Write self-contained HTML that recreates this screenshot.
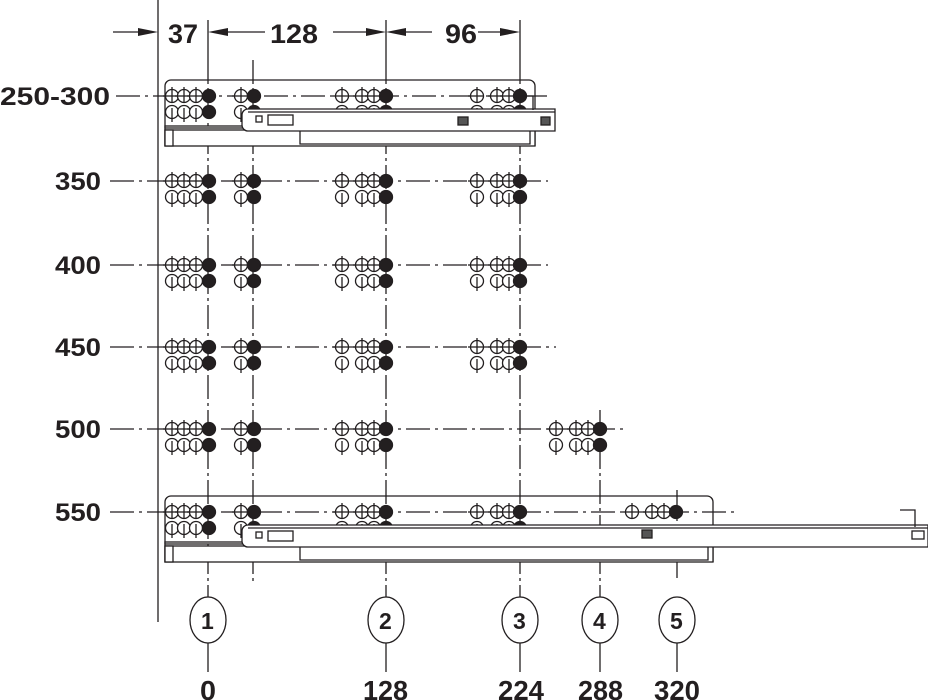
<!DOCTYPE html>
<html><head><meta charset="utf-8"><style>
html,body{margin:0;padding:0;background:#fff;}
svg{display:block;}
text{font-family:"Liberation Sans",sans-serif;font-weight:bold;fill:#231f20;}
</style></head><body>
<svg id="s" width="928" height="700" viewBox="0 0 928 700" xmlns="http://www.w3.org/2000/svg">
<g stroke="#231f20" fill="none" stroke-width="1.3">
<line x1="158" y1="0" x2="158" y2="622"/>
<line x1="208" y1="20" x2="208" y2="60" /><line x1="386" y1="20" x2="386" y2="60"/><line x1="520" y1="20" x2="520" y2="60"/>
<line x1="113" y1="32" x2="140" y2="32"/><line x1="228" y1="32" x2="265" y2="32"/><line x1="333" y1="32" x2="368" y2="32"/><line x1="405" y1="32" x2="432" y2="32"/><line x1="478" y1="32" x2="502" y2="32"/>
</g>
<g fill="#231f20">
<polygon points="158,32 138,28 138,36"/><polygon points="208,32 228,28 228,36"/>
<polygon points="386,32 366,28 366,36"/><polygon points="386,32 406,28 406,36"/>
<polygon points="520,32 500,28 500,36"/>
</g>
<text x="168" y="43" font-size="27" textLength="30" lengthAdjust="spacingAndGlyphs">37</text>
<text x="270" y="43" font-size="27" textLength="48" lengthAdjust="spacingAndGlyphs">128</text>
<text x="445" y="43" font-size="27" textLength="32" lengthAdjust="spacingAndGlyphs">96</text>
<text x="0" y="105" font-size="25" textLength="110" lengthAdjust="spacingAndGlyphs">250-300</text>
<text x="55" y="190" font-size="25" textLength="46" lengthAdjust="spacingAndGlyphs">350</text>
<text x="55" y="274" font-size="25" textLength="46" lengthAdjust="spacingAndGlyphs">400</text>
<text x="55" y="356" font-size="25" textLength="46" lengthAdjust="spacingAndGlyphs">450</text>
<text x="55" y="438" font-size="25" textLength="46" lengthAdjust="spacingAndGlyphs">500</text>
<text x="55" y="521" font-size="25" textLength="46" lengthAdjust="spacingAndGlyphs">550</text>
<g id="bot" stroke="#231f20" fill="none" stroke-width="1.3"></g>
<text x="200" y="700" font-size="28" textLength="16" lengthAdjust="spacingAndGlyphs">0</text>
<text x="363" y="700" font-size="28" textLength="45" lengthAdjust="spacingAndGlyphs">128</text>
<text x="498" y="700" font-size="28" textLength="46" lengthAdjust="spacingAndGlyphs">224</text>
<text x="578" y="700" font-size="28" textLength="45" lengthAdjust="spacingAndGlyphs">288</text>
<text x="654" y="700" font-size="28" textLength="46" lengthAdjust="spacingAndGlyphs">320</text>
<text x="201" y="629" font-size="23">1</text>
<text x="379" y="629" font-size="23">2</text>
<text x="513" y="629" font-size="23">3</text>
<text x="593" y="629" font-size="23">4</text>
<text x="670" y="629" font-size="23">5</text>
<g id="g" stroke="#231f20" fill="none" stroke-width="1.3"></g>
</svg>
<script>
var g=document.getElementById('g'),b=document.getElementById('bot'),NS="http://www.w3.org/2000/svg";
function el(p,t,a){var e=document.createElementNS(NS,t);for(var k in a)e.setAttribute(k,a[k]);p.appendChild(e);return e;}
[208,386,520,600,677].forEach(function(x){el(b,'ellipse',{cx:x,cy:620,rx:18,ry:23});el(b,'line',{x1:x,y1:643,x2:x,y2:672});});
[[208,60,597],[253,60,582],[386,60,597],[520,60,597],[600,410,597],[677,490,578]].forEach(function(v){el(g,'line',{x1:v[0],y1:v[1],x2:v[0],y2:v[2],'stroke-dasharray':'24,4,3,4'});});
var rows=[[96,548,116],[181,548,110],[265,548,110],[347,556,110],[429,626,110],[512,735,110]];
rows.forEach(function(r){el(g,'line',{x1:r[2],y1:r[0],x2:r[1],y2:r[0],'stroke-dasharray':'24,5,3,5'});});
var A=[[172,184,196],209],B=[[241],254],C=[[342,362,374],386],D=[[477,497,509],520],E=[[556,576,588],600],F=[[632,652,664],676];
function grp(G,y,two){G[0].forEach(function(x){el(g,'circle',{cx:x,cy:y,r:6.5,fill:'#fff'});el(g,'line',{x1:x,y1:y-9,x2:x,y2:y+7});el(g,'line',{x1:x-9,y1:y,x2:x+6,y2:y});
if(two){el(g,'circle',{cx:x,cy:y+16,r:6.5,fill:'#fff'});el(g,'line',{x1:x,y1:y+12,x2:x,y2:y+26});}});
el(g,'circle',{cx:G[1],cy:y,r:6.5,fill:'#231f20'});if(two)el(g,'circle',{cx:G[1],cy:y+16,r:6.5,fill:'#231f20'});}
[181,265,347].forEach(function(y){[A,B,C,D].forEach(function(G){grp(G,y,1);});});
[A,B,C].forEach(function(G){grp(G,429,1);});grp(E,429,1);
function rail(y,ox2,sx2,lx2){
el(g,'path',{d:'M165,'+(y+50)+' V'+(y-10)+' a6,6 0 0 1 6,-6 H'+(ox2-6)+' a6,6 0 0 1 6,6 V'+(y+50)});
[A,B,C,D].forEach(function(G){grp(G,y,1);});
if(ox2>600)grp(F,y,0);
el(g,'rect',{x:165,y:y+30,width:lx2-165,height:2,fill:'#fff'});
el(g,'rect',{x:165,y:y+34,width:lx2-165,height:16,fill:'#fff'});
el(g,'rect',{x:165,y:y+34,width:8,height:16,fill:'#fff'});
el(g,'path',{d:'M248,'+(y+13)+' H'+sx2+' V'+(y+35)+' H248 a6,6 0 0 1 -6,-6 V'+(y+19)+' a6,6 0 0 1 6,-6 Z',fill:'#fff'});
el(g,'line',{x1:248,y1:y+16,x2:sx2,y2:y+16});
el(g,'rect',{x:256,y:y+20,width:6,height:6});el(g,'rect',{x:268,y:y+19,width:25,height:10});
el(g,'path',{d:'M300,'+(y+35)+' V'+(y+48)+' H'+(ox2==535?530:lx2-5)+' V'+(y+35)});
}
rail(96,535,555,535);
el(g,'rect',{x:458,y:117,width:10,height:8,fill:'#555'});el(g,'rect',{x:541,y:117,width:9,height:8,fill:'#555'});
el(g,'path',{d:'M520,96 H533 V110'});
rail(512,713,928,713);
el(g,'rect',{x:642,y:530,width:10,height:8,fill:'#555'});el(g,'path',{d:'M900,510 H915 V527'});el(g,'rect',{x:912,y:531,width:12,height:8});
</script>
</body></html>
